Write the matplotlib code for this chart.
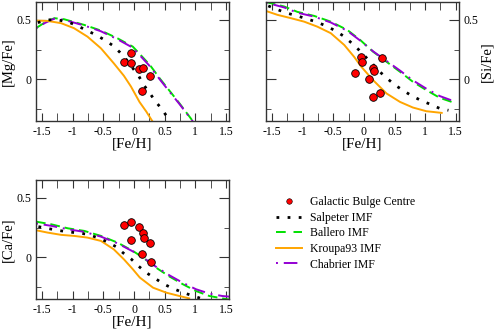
import numpy as np
import matplotlib
matplotlib.use("Agg")
import matplotlib.pyplot as plt
from matplotlib.ticker import MultipleLocator
from matplotlib.lines import Line2D

plt.rcParams['font.family'] = ['Liberation Serif', 'DejaVu Serif']

# [Mg/Fe] panel
mg_salp_x = [-1.57, -1.41, -1.25, -1.08, -0.93, -0.78, -0.63, -0.49, -0.35, -0.23, -0.12, -0.02, 0.08, 0.16, 0.26, 0.35, 0.46, 0.55]
mg_salp_y = [0.477, 0.50, 0.50, 0.483, 0.452, 0.413, 0.376, 0.334, 0.286, 0.227, 0.163, 0.094, 0.025, -0.048, -0.118, -0.185, -0.253, -0.323]
mg_ball_x = [-1.6, -1.45, -1.3, -1.14, -0.81, -0.54, -0.27, -0.02, 0.09, 0.26, 0.42, 0.58, 0.74, 0.93, 0.97]
mg_ball_y = [0.43, 0.48, 0.514, 0.505, 0.457, 0.41, 0.345, 0.275, 0.215, 0.12, 0.008, -0.096, -0.2, -0.33, -0.36]
mg_chab_y = [0.43, 0.475, 0.51, 0.50, 0.452, 0.404, 0.337, 0.266, 0.205, 0.11, 0.0, -0.104, -0.206, -0.334, -0.36]
mg_krou_x = [-1.6, -1.41, -1.19, -0.98, -0.76, -0.54, -0.33, -0.165, -0.05, 0.09, 0.2, 0.31]
mg_krou_y = [0.494, 0.491, 0.472, 0.43, 0.359, 0.261, 0.135, 0.03, -0.06, -0.19, -0.27, -0.36]
mg_obs_x = [-0.047, -0.165, -0.057, 0.078, 0.148, 0.256, 0.13]
mg_obs_y = [0.224, 0.143, 0.135, 0.09, 0.098, 0.03, -0.096]

# [Si/Fe] panel
si_salp_x = [-1.56, -1.40, -1.25, -1.085, -0.93, -0.775, -0.617, -0.47, -0.335, -0.205, -0.08, 0.03, 0.143, 0.26, 0.387, 0.51, 0.65, 0.79, 0.935, 1.09, 1.24, 1.38]
si_salp_y = [0.617, 0.584, 0.556, 0.533, 0.508, 0.483, 0.449, 0.41, 0.365, 0.308, 0.247, 0.188, 0.129, 0.064, 0.005, -0.048, -0.096, -0.14, -0.177, -0.21, -0.244, -0.259]
si_ball_x = [-1.6, -1.3, -1.085, -0.81, -0.54, -0.27, -0.06, 0.15, 0.37, 0.59, 0.8, 1.02, 1.24, 1.48]
si_ball_y = [0.65, 0.612, 0.567, 0.533, 0.485, 0.415, 0.331, 0.233, 0.148, 0.064, -0.02, -0.09, -0.155, -0.197]
si_chab_y = [0.645, 0.604, 0.56, 0.527, 0.478, 0.408, 0.326, 0.236, 0.155, 0.074, -0.008, -0.078, -0.14, -0.185]
si_krou_x = [-1.6, -1.41, -1.19, -0.975, -0.76, -0.54, -0.32, -0.16, -0.04, 0.15, 0.37, 0.59, 0.8, 1.02, 1.27]
si_krou_y = [0.575, 0.542, 0.514, 0.485, 0.443, 0.388, 0.289, 0.19, 0.105, -0.006, -0.118, -0.189, -0.236, -0.267, -0.281]
si_obs_x = [-0.145, -0.05, -0.035, 0.083, 0.15, 0.17, 0.145, 0.26, 0.30]
si_obs_y = [0.05, 0.185, 0.148, 0.0, 0.098, 0.07, -0.15, -0.118, 0.182]

# [Ca/Fe] panel
ca_salp_x = [-1.56, -1.40, -1.246, -1.07, -0.916, -0.76, -0.6, -0.446, -0.295, -0.177, -0.047, 0.078, 0.2, 0.34, 0.483, 0.63, 0.78, 0.937, 1.09]
ca_salp_y = [0.258, 0.242, 0.227, 0.214, 0.205, 0.194, 0.166, 0.132, 0.09, 0.037, -0.014, -0.076, -0.129, -0.176, -0.224, -0.261, -0.292, -0.32, -0.345]
ca_ball_x = [-1.6, -1.353, -1.08, -0.81, -0.54, -0.27, -0.02, 0.148, 0.36, 0.58, 0.8, 1.01, 1.23, 1.44, 1.55]
ca_ball_y = [0.30, 0.278, 0.244, 0.222, 0.18, 0.124, 0.054, -0.003, -0.087, -0.162, -0.227, -0.283, -0.325, -0.345, -0.355]
ca_chab_y = [0.285, 0.265, 0.236, 0.214, 0.174, 0.118, 0.05, -0.002, -0.08, -0.152, -0.215, -0.268, -0.305, -0.325, -0.33]
ca_krou_x = [-1.6, -1.41, -1.19, -0.976, -0.76, -0.54, -0.33, -0.165, -0.02, 0.094, 0.31, 0.527, 0.74, 0.9]
ca_krou_y = [0.228, 0.208, 0.189, 0.18, 0.166, 0.138, 0.067, -0.017, -0.1, -0.17, -0.255, -0.297, -0.325, -0.345]
ca_obs_x = [-0.165, -0.057, -0.047, 0.078, 0.148, 0.164, 0.256, 0.13, 0.284]
ca_obs_y = [0.27, 0.30, 0.149, 0.258, 0.208, 0.16, 0.118, 0.029, -0.039]

labels = ["Galactic Bulge Centre", "Salpeter IMF", "Ballero IMF", "Kroupa93 IMF", "Chabrier IMF"]

GREEN = "#00e000"
ORANGE = "#ffa500"
PURPLE = "#9400d3"
dotted = (0, (1, 3.0))
dashed = (0, (5, 2.5))
dashdot = (0, (1, 3, 7, 3))


def pannello(ax, salp, ball, chab, krou, obs, ylabel, destra=False):
    ax.plot(ball[0], ball[1], color=GREEN, lw=1.4, ls=dashed)
    ax.plot(ball[0], chab, color=PURPLE, lw=1.4, ls=dashdot)
    ax.plot(krou[0], krou[1], color=ORANGE, lw=1.4, ls='-')
    ax.plot(salp[0], salp[1], color='black', lw=2.0, ls=dotted, dash_capstyle='butt')
    ax.plot(obs[0], obs[1], 'o', color='red', mec='black', mew=0.6, ms=5.5, ls='none')
    ax.set_xlim(-1.6, 1.55)
    ax.set_ylim(-0.35, 0.65)
    ax.xaxis.set_major_locator(MultipleLocator(0.5))
    ax.xaxis.set_minor_locator(MultipleLocator(0.25))
    ax.yaxis.set_major_locator(MultipleLocator(0.5))
    ax.yaxis.set_minor_locator(MultipleLocator(0.25))
    ax.xaxis.set_major_formatter(plt.FuncFormatter(lambda v, p: f"{v:g}"))
    ax.yaxis.set_major_formatter(plt.FuncFormatter(lambda v, p: f"{v:g}"))
    ax.tick_params(which='both', direction='in', top=True, right=True, labelsize=8.5, color='#333333')
    ax.tick_params(axis='x', which='both', length=5.5)
    ax.tick_params(axis='y', which='major', length=7)
    ax.tick_params(axis='y', which='minor', length=3.5)
    for s in ax.spines.values():
        s.set_color('#333333')
        s.set_linewidth(1.0)
    ax.set_xlabel("[Fe/H]", fontsize=11, labelpad=0)
    if destra:
        ax.yaxis.tick_right()
        ax.yaxis.set_ticks_position('both')
        ax.tick_params(axis='y', which='both', labelleft=False, labelright=True)
        ax.yaxis.set_label_position('right')
    ax.set_ylabel(ylabel, fontsize=10.5, labelpad=1)


fig = plt.figure(figsize=(4.95, 3.3), dpi=100)
ax1 = fig.add_axes([0.0727, 0.633, 0.39, 0.361])
ax2 = fig.add_axes([0.537, 0.633, 0.39, 0.361])
ax3 = fig.add_axes([0.0727, 0.094, 0.39, 0.3605])

pannello(ax1, (mg_salp_x, mg_salp_y), (mg_ball_x, mg_ball_y), mg_chab_y,
         (mg_krou_x, mg_krou_y), (mg_obs_x, mg_obs_y), "[Mg/Fe]")
pannello(ax2, (si_salp_x, si_salp_y), (si_ball_x, si_ball_y), si_chab_y,
         (si_krou_x, si_krou_y), (si_obs_x, si_obs_y), "[Si/Fe]", destra=True)
pannello(ax3, (ca_salp_x, ca_salp_y), (ca_ball_x, ca_ball_y), ca_chab_y,
         (ca_krou_x, ca_krou_y), (ca_obs_x, ca_obs_y), "[Ca/Fe]")

handles = [
    Line2D([], [], marker='o', color='red', mec='black', mew=0.4, ms=4, ls='none'),
    Line2D([], [], color='black', lw=2.0, ls=(0, (1, 3.0)), dash_capstyle='butt'),
    Line2D([], [], color=GREEN, lw=1.4, ls=(0, (5, 4))),
    Line2D([], [], color=ORANGE, lw=1.4, ls='-'),
    Line2D([], [], color=PURPLE, lw=1.4, ls=(0, (1, 3, 7, 3))),
]
fig.legend(handles, labels, loc='upper left', bbox_to_anchor=(0.5576, 0.405),
           frameon=False, fontsize=8.5, handlelength=2.2, handletextpad=0.7,
           labelspacing=0.3, borderpad=0, borderaxespad=0)

fig.savefig("out.png", dpi=100)
